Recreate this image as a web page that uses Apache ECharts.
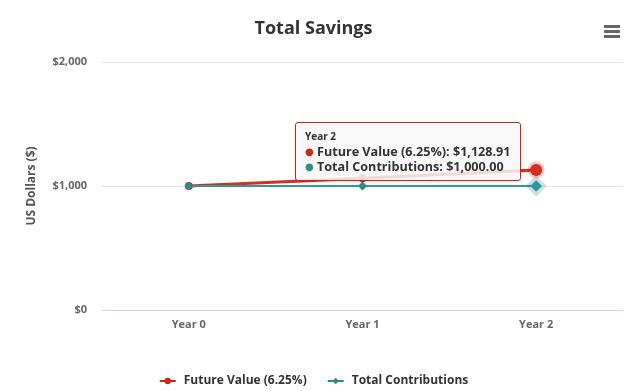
<!DOCTYPE html>
<html>
<head>
<meta charset="utf-8">
<script src="https://cdn.jsdelivr.net/npm/echarts@6/dist/echarts.min.js"></script>
<style>
html,body{margin:0;padding:0;background:#fff;}
#chart{width:627px;height:391px;}
</style>
</head>
<body>
<div id="chart"></div>
<script>
var categories = ['Year 0', 'Year 1', 'Year 2'];
var futureValue = [1000.00, 1062.50, 1128.91];
var contributions = [1000.00, 1000.00, 1000.00];
var seriesNames = ['Future Value (6.25%)', 'Total Contributions'];
var yTicks = [0, 1000, 2000];

var RED = '#c42a1c', TEAL = '#2a8c8c';
var FONT = '"Open Sans", "DejaVu Sans", sans-serif';

function money(v, dec) {
  return '$' + v.toLocaleString('en-US', {minimumFractionDigits: dec, maximumFractionDigits: dec});
}

var chart = echarts.init(document.getElementById('chart'));
chart.setOption({
  animation: false,
  textStyle: {fontFamily: FONT},
  title: {
    text: 'Total Savings', left: 'center', top: 15,
    textStyle: {fontFamily: FONT, fontSize: 18, fontWeight: 'bold', color: '#333'}
  },
  graphic: [
    {type: 'rect', left: 604, top: 25, shape: {width: 16, height: 3}, style: {fill: '#666'}},
    {type: 'rect', left: 604, top: 30, shape: {width: 16, height: 3}, style: {fill: '#666'}},
    {type: 'rect', left: 604, top: 35, shape: {width: 16, height: 3}, style: {fill: '#666'}}
  ],
  grid: {left: 102, right: 4, top: 62, bottom: 81},
  legend: {
    top: 370, left: 'center', itemWidth: 16, itemHeight: 8, itemGap: 20,
    textStyle: {fontFamily: FONT, fontSize: 12, fontWeight: 'bold', color: '#333', padding: [0, 0, 0, 3]},
    data: seriesNames
  },
  tooltip: {
    trigger: 'axis',
    alwaysShowContent: true,
    transitionDuration: 0,
    axisPointer: {type: 'none'},
    backgroundColor: 'rgba(247,247,247,0.85)',
    borderColor: RED, borderWidth: 1, padding: [6, 9],
    extraCssText: 'border-radius:3px;box-shadow:1px 1px 3px rgba(0,0,0,0.15);',
    position: function () { return [295, 122]; },
    formatter: function (params) {
      var s = '<div style="font-family:' + FONT.replace(/"/g, "'") + ';color:#333;font-weight:bold;line-height:14px;">';
      s += '<div style="font-size:10px;margin-bottom:1px;">' + params[0].axisValue + '</div>';
      params.forEach(function (p) {
        s += '<div style="font-size:12.6px;"><span style="color:' + p.color + ';font-size:10px;vertical-align:1px;">\u25CF</span> ' +
          p.seriesName + ': ' + money(p.value, 2) + '</div>';
      });
      return s + '</div>';
    }
  },
  xAxis: {
    type: 'category', data: categories, boundaryGap: true,
    axisLine: {lineStyle: {color: '#ccd6eb'}},
    axisTick: {length: 9, lineStyle: {color: '#ccd6eb'}},
    axisLabel: {fontFamily: FONT, fontSize: 11, fontWeight: 'bold', color: '#666', margin: 9}
  },
  yAxis: {
    type: 'value', min: yTicks[0], max: yTicks[yTicks.length - 1], interval: 1000,
    name: 'US Dollars ($)', nameLocation: 'middle', nameGap: 64, nameRotate: 90,
    nameTextStyle: {fontFamily: FONT, fontSize: 12, fontWeight: 'bold', color: '#555'},
    axisLine: {show: false}, axisTick: {show: false},
    splitLine: {lineStyle: {color: '#e6e6e6'}},
    axisLabel: {fontFamily: FONT, fontSize: 11, fontWeight: 'bold', color: '#666', margin: 15,
      formatter: function (v) { return money(v, 0); }}
  },
  series: [
    {
      name: seriesNames[0], type: 'line', data: futureValue,
      color: RED, symbol: 'circle', symbolSize: 8,
      lineStyle: {width: 3, color: RED},
      itemStyle: {color: RED},
      emphasis: {scale: 1.5, itemStyle: {borderColor: 'rgba(196,42,28,0.25)', borderWidth: 5}}
    },
    {
      name: seriesNames[1], type: 'line', data: contributions,
      color: TEAL, symbol: 'diamond', symbolSize: 9,
      lineStyle: {width: 2, color: TEAL},
      itemStyle: {color: TEAL},
      emphasis: {scale: 1.3, itemStyle: {borderColor: 'rgba(42,140,140,0.25)', borderWidth: 7}}
    }
  ]
});
chart.dispatchAction({type: 'showTip', seriesIndex: 0, dataIndex: 2});
chart.dispatchAction({type: 'highlight', seriesIndex: [0, 1], dataIndex: 2});
</script>
</body>
</html>
